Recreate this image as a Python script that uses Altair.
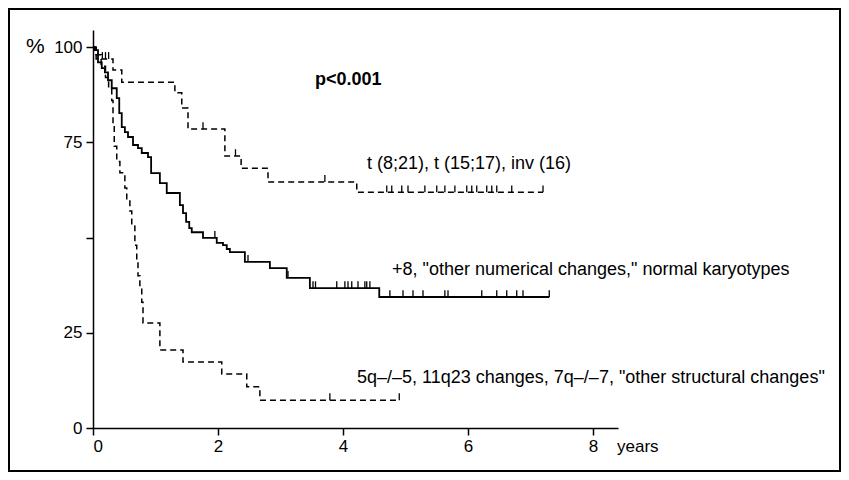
import altair as alt
import pandas as pd

# ---- data ----
# Group 1: t(8;21), t(15;17), inv(16)  (dashed, top)
fav_t = [0, 0.05, 0.32, 0.46, 1.31, 1.42, 1.52, 2.11, 2.37, 2.80, 4.22, 7.20]
fav_s = [100, 96.9, 94.0, 90.8, 88.0, 84.0, 78.5, 71.4, 68.2, 64.6, 61.9, 61.9]
fav_cens = [0.15, 0.20, 0.25, 1.76, 2.28, 3.71, 4.70, 4.78, 4.94, 5.04, 5.31, 5.50,
            5.63, 5.79, 5.98, 6.06, 6.14, 6.30, 6.38, 6.46, 6.70, 7.20]

# Group 2: +8, other numerical changes, normal karyotypes (solid, middle)
int_t = [0, 0.03, 0.08, 0.14, 0.19, 0.24, 0.30, 0.38, 0.42, 0.46, 0.51, 0.56, 0.64,
         0.72, 0.78, 0.88, 0.93, 1.07, 1.18, 1.39, 1.44, 1.49, 1.54, 1.58, 1.76,
         1.98, 2.08, 2.14, 2.19, 2.43, 2.83, 3.10, 3.47, 4.58, 7.30]
int_s = [100, 99.2, 96.0, 94.5, 93.4, 91.3, 89.2, 86.6, 82.7, 79.0, 77.7, 76.4, 74.3,
         73.5, 72.2, 71.1, 66.9, 64.3, 61.7, 58.5, 56.4, 54.1, 52.5, 51.4, 49.9,
         48.6, 48.0, 47.0, 46.2, 43.6, 42.0, 39.4, 36.7, 34.4, 34.4]
int_cens = [1.95, 2.48, 3.12, 3.52, 3.56, 3.90, 4.03, 4.08, 4.14, 4.24, 4.35, 4.38,
            4.43, 4.75, 4.96, 5.12, 5.28, 5.63, 5.68, 6.22, 6.46, 6.62, 6.78, 6.88, 7.30]

# Group 3: 5q-/-5, 11q23, 7q-/-7, other structural (dashed, bottom)
unf_t = [0, 0.05, 0.13, 0.20, 0.25, 0.30, 0.32, 0.34, 0.38, 0.43, 0.51, 0.54, 0.59,
         0.62, 0.67, 0.70, 0.72, 0.75, 0.78, 0.80, 1.07, 1.44, 2.06, 2.46, 2.67, 4.90]
unf_s = [100, 98.0, 95.0, 92.0, 89.0, 86.0, 80.0, 74.0, 70.0, 67.0, 63.0, 60.0, 57.0,
         53.0, 48.0, 44.0, 40.0, 37.0, 33.0, 27.6, 20.5, 17.3, 14.2, 10.8, 7.3, 7.3]
unf_cens = [3.79, 4.90]

x_ticks = [0, 2, 4, 6, 8]
y_ticks = [0, 25, 50, 75, 100]

FONT = "Liberation Sans"
TICK_UP = 1.8  # censor mark height in % units
TXT = 18


def step_value(ts, ss, t):
    v = ss[0]
    for ti, si in zip(ts, ss):
        if ti <= t:
            v = si
    return v


def curve_df(ts, ss):
    return pd.DataFrame({"t": ts, "s": ss})


def cens_df(ts, ss, cens):
    vals = [step_value(ts, ss, c) for c in cens]
    return pd.DataFrame({"t": cens, "s": vals, "s2": [v + TICK_UP for v in vals]})


xscale = alt.Scale(domain=[0, 8.4], nice=False, zero=False)
yscale = alt.Scale(domain=[0, 104.5], nice=False)

xaxis = alt.Axis(values=x_ticks, title=None, grid=False, tickSize=7, labelPadding=3,
                 labelFontSize=17, labelFont=FONT, labelColor="black",
                 domainColor="black", tickColor="black", domainWidth=1.5, tickWidth=1.5)
yaxis = alt.Axis(values=y_ticks, title=None, grid=False, tickSize=7, labelPadding=4,
                 labelFontSize=17, labelFont=FONT, labelColor="black",
                 domainColor="black", tickColor="black", domainWidth=1.5, tickWidth=1.5,
                 labelExpr="datum.value == 50 ? '' : datum.label")

X = alt.X("t:Q", scale=xscale, axis=xaxis)
Y = alt.Y("s:Q", scale=yscale, axis=yaxis)


def line_layer(ts, ss, dash, width):
    kw = dict(interpolate="step-after", color="black", strokeWidth=width)
    if dash:
        kw["strokeDash"] = dash
    return alt.Chart(curve_df(ts, ss)).mark_line(**kw).encode(x=X, y=Y)


def cens_layer(ts, ss, cens, width):
    return alt.Chart(cens_df(ts, ss, cens)).mark_rule(color="black", strokeWidth=width).encode(
        x=X, y=Y, y2="s2:Q")


one = pd.DataFrame({"a": [0]})


def label(text, x, y, size=TXT, weight="normal", align="left"):
    return alt.Chart(one).mark_text(text=text, font=FONT, fontSize=size, fontWeight=weight,
                                    align=align, baseline="middle", color="black").encode(
        x=alt.value(x), y=alt.value(y))


frame = alt.Chart(one).mark_rect(fillOpacity=0, stroke="black", strokeWidth=2).encode(
    x=alt.value(-84), x2=alt.value(747), y=alt.value(-21), y2=alt.value(441))

chart = alt.layer(
    line_layer(int_t, int_s, None, 1.8),
    line_layer(fav_t, fav_s, [6, 4], 1.5),
    line_layer(unf_t, unf_s, [6, 4], 1.5),
    cens_layer(fav_t, fav_s, fav_cens, 1.3),
    cens_layer(int_t, int_s, int_cens, 1.3),
    cens_layer(unf_t, unf_s, unf_cens, 1.3),
    frame,
    label("%", -67, 17, size=21),
    label("p<0.001", 222, 50, size=18, weight="bold"),
    label("t (8;21), t (15;17), inv (16)", 274, 134),
    label('+8, "other numerical changes," normal karyotypes', 299, 240),
    label('5q\u2013/\u20135, 11q23 changes, 7q\u2013/\u20137, "other structural changes"', 264, 348),
    label("years", 524, 417, size=17),
).properties(
    width=525, height=398,
    background="white",
    autosize=alt.AutoSizeParams(type="none"),
    padding={"left": 85, "top": 22, "right": 223, "bottom": 44},
).configure_view(stroke=None)

chart.save("out.html", embed_options={"renderer": "svg", "actions": False})
